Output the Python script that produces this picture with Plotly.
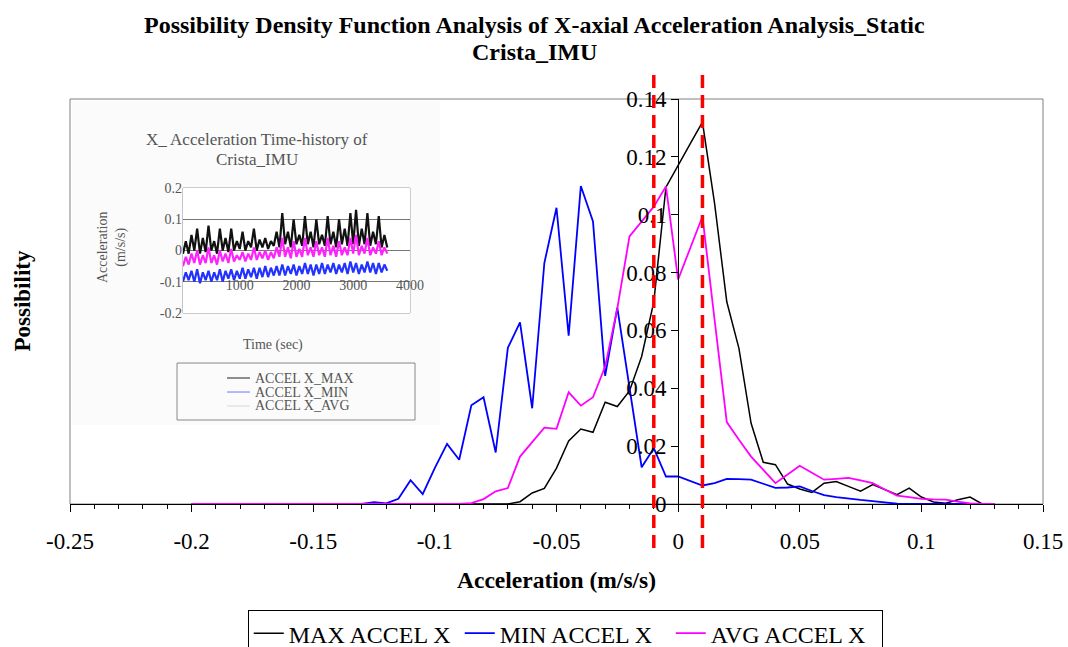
import plotly.graph_objects as go

# ---------------- main PDF data ----------------
accel = [-0.2, -0.195, -0.19, -0.185, -0.18, -0.175, -0.17, -0.165, -0.16, -0.155,
         -0.15, -0.145, -0.14, -0.135, -0.13, -0.125, -0.12, -0.115, -0.11, -0.105,
         -0.1, -0.095, -0.09, -0.085, -0.08, -0.075, -0.07, -0.065, -0.06, -0.055,
         -0.05, -0.045, -0.04, -0.035, -0.03, -0.025, -0.02, -0.015, -0.01, -0.005,
         0.0, 0.005, 0.01, 0.015, 0.02, 0.025, 0.03, 0.035, 0.04, 0.045,
         0.05, 0.055, 0.06, 0.065, 0.07, 0.075, 0.08, 0.085, 0.09, 0.095,
         0.1, 0.105, 0.11, 0.115, 0.12, 0.125, 0.13]

max_accel_x = [0, 0, 0, 0, 0, 0, 0, 0, 0, 0,
               0, 0, 0, 0, 0, 0, 0, 0, 0, 0,
               0, 0, 0, 0, 0, 0, 0, 0.0008, 0.0038, 0.0054,
               0.0124, 0.0218, 0.0259, 0.0248, 0.0352, 0.0337, 0.0391, 0.051, 0.0699, 0.1095,
               0.1172, 0.1246, 0.132, 0.1038, 0.0699, 0.0538, 0.0279, 0.0144, 0.0136, 0.0069,
               0.0052, 0.004, 0.0072, 0.0078, 0.0061, 0.0044, 0.0067, 0.0049, 0.0032, 0.0055,
               0.0024, 0.0007, 0.0003, 0.0015, 0.0024, 0, 0]

min_accel_x = [0, 0, 0, 0, 0, 0, 0, 0, 0, 0,
               0, 0, 0, 0, 0, 0.0006, 0.0002, 0.0018, 0.0082, 0.0034,
               0.0125, 0.0208, 0.0153, 0.0341, 0.0369, 0.0178, 0.054, 0.0628, 0.0331, 0.0833,
               0.1024, 0.0582, 0.1099, 0.0977, 0.0443, 0.0679, 0.0403, 0.0127, 0.0193, 0.0095,
               0.0095, 0.008, 0.0064, 0.0072, 0.0087, 0.0086, 0.0084, 0.007, 0.0056, 0.0057,
               0.0061, 0.0045, 0.0031, 0.0024, 0.0018, 0.0014, 0.001, 0.0005, 0.0001, 0,
               0, 0, 0, 0, 0, 0, 0]

avg_accel_x = [0, 0, 0, 0, 0, 0, 0, 0, 0, 0,
               0, 0, 0, 0, 0, 0, 0, 0, 0, 0,
               0, 0, 0, 0.0003, 0.0017, 0.0044, 0.0055, 0.0164, 0.0216, 0.0264,
               0.026, 0.0386, 0.034, 0.0369, 0.0475, 0.0676, 0.0925, 0.0975, 0.1028, 0.1098,
               0.0776, 0.0885, 0.0994, 0.0636, 0.0283, 0.0222, 0.0164, 0.0118, 0.0072, 0.0102,
               0.0132, 0.0108, 0.0084, 0.0087, 0.009, 0.0082, 0.0072, 0.005, 0.0029, 0.0024,
               0.0018, 0.0016, 0.0015, 0.0008, 0.0002, 0, 0]

x_tick_vals = [-0.25, -0.2, -0.15, -0.1, -0.05, 0, 0.05, 0.1, 0.15]
x_tick_text = ["-0.25", "-0.2", "-0.15", "-0.1", "-0.05", "0", "0.05", "0.1", "0.15"]
y_tick_vals = [0, 0.02, 0.04, 0.06, 0.08, 0.1, 0.12, 0.14]
y_tick_text = ["0", "0.02", "0.04", "0.06", "0.08", "0.1", "0.12", "0.14"]
threshold_lines = [-0.01, 0.01]

# ---------------- inset time-history data (hand estimated) ----------------
time_sec = list(range(0, 3650, 50))
inset_max = [-0.01, 0.03, -0.01, 0.05, 0.0, 0.07, -0.01, 0.04, -0.005, 0.08,
             0.0, 0.03, -0.01, 0.07, 0.0, 0.04, -0.005, 0.07, 0.0, 0.03,
             0.005, 0.06, 0.0, 0.03, 0.01, 0.07, 0.0, 0.035, 0.01, 0.04,
             0.005, 0.03, 0.015, 0.06, 0.01, 0.12, 0.02, 0.06, 0.01, 0.1,
             0.02, 0.05, 0.015, 0.11, 0.02, 0.06, 0.01, 0.1, 0.02, 0.05,
             0.015, 0.11, 0.02, 0.06, 0.01, 0.1, 0.02, 0.07, 0.015, 0.12,
             0.02, 0.13, 0.015, 0.07, 0.02, 0.12, 0.015, 0.06, 0.02, 0.11,
             0.01, 0.05, 0.01]
inset_avg = [-0.05, -0.02, -0.045, -0.01, -0.04, 0.0, -0.045, -0.015, -0.04, 0.01,
             -0.04, -0.015, -0.045, 0.0, -0.035, -0.01, -0.04, 0.005, -0.035, -0.015,
             -0.03, -0.005, -0.035, -0.01, -0.03, 0.01, -0.03, -0.005, -0.025, 0.0,
             -0.03, -0.005, -0.025, 0.01, -0.02, 0.04, -0.02, 0.01, -0.025, 0.03,
             -0.02, 0.005, -0.02, 0.04, -0.015, 0.01, -0.02, 0.03, -0.015, 0.01,
             -0.02, 0.04, -0.015, 0.015, -0.02, 0.03, -0.015, 0.01, -0.015, 0.04,
             -0.01, 0.05, -0.015, 0.015, -0.01, 0.04, -0.015, 0.01, -0.01, 0.03,
             -0.015, 0.01, -0.01]
inset_min = [-0.1, -0.07, -0.095, -0.065, -0.1, -0.06, -0.105, -0.07, -0.095, -0.065,
             -0.1, -0.07, -0.095, -0.06, -0.1, -0.065, -0.09, -0.06, -0.095, -0.065,
             -0.09, -0.055, -0.09, -0.06, -0.085, -0.055, -0.09, -0.055, -0.085, -0.05,
             -0.085, -0.055, -0.08, -0.05, -0.08, -0.045, -0.08, -0.05, -0.075, -0.045,
             -0.08, -0.05, -0.075, -0.04, -0.075, -0.045, -0.08, -0.045, -0.075, -0.04,
             -0.075, -0.045, -0.07, -0.04, -0.075, -0.045, -0.07, -0.04, -0.075, -0.035,
             -0.07, -0.04, -0.075, -0.045, -0.07, -0.035, -0.07, -0.04, -0.075, -0.04,
             -0.07, -0.045, -0.065]
inset_x_ticks = [1000, 2000, 3000, 4000]
inset_y_ticks = [-0.2, -0.1, 0, 0.1, 0.2]
inset_y_text = ["-0.2", "-0.1", "0", "0.1", "0.2"]
inset_legend = ["ACCEL X_MAX", "ACCEL X_MIN", "ACCEL X_AVG"]

SERIF = "Liberation Serif"
INSET_TXT = "#555555"

fig = go.Figure()

# inset traces (min, avg on top, max)
for vals, col in [(inset_max, "#111111"), (inset_min, "#2233ff"), (inset_avg, "#ff22ff")]:
    fig.add_trace(go.Scatter(x=time_sec, y=vals, mode="lines", xaxis="x2", yaxis="y2",
                             line=dict(color=col, width=2.2), showlegend=False,
                             hoverinfo="skip"))

# main traces
fig.add_trace(go.Scatter(x=accel, y=max_accel_x, mode="lines", name="MAX ACCEL X",
                         line=dict(color="#000000", width=1.5)))
fig.add_trace(go.Scatter(x=accel, y=min_accel_x, mode="lines", name="MIN ACCEL X",
                         line=dict(color="#0000ff", width=1.8)))
fig.add_trace(go.Scatter(x=accel, y=avg_accel_x, mode="lines", name="AVG ACCEL X",
                         line=dict(color="#ff00ff", width=1.8)))

shapes = []
# inset background
shapes.append(dict(type="rect", xref="paper", yref="paper", x0=0.002, x1=0.380, y0=0.195, y1=0.995,
                   fillcolor="#fbfbfb", line=dict(width=0), layer="below"))
# plot frame
shapes.append(dict(type="rect", xref="paper", yref="paper", x0=0, x1=1, y0=0, y1=1,
                   line=dict(color="#808080", width=1), layer="below"))
# inset plot box
shapes.append(dict(type="rect", xref="x2 domain", yref="y2 domain", x0=0, x1=1, y0=0, y1=1,
                   line=dict(color="#999999", width=1), layer="below"))
# inset legend box
shapes.append(dict(type="rect", xref="paper", yref="paper", x0=0.110, x1=0.3546, y0=0.2074, y1=0.3481,
                   line=dict(color="#888888", width=1), layer="below"))
leg_y = [0.3111, 0.2765, 0.2420]
leg_col = ["#444444", "#8888ff", "#dddddd"]
for yy, cc in zip(leg_y, leg_col):
    shapes.append(dict(type="line", xref="paper", yref="paper", x0=0.1614, x1=0.1850, y0=yy, y1=yy,
                       line=dict(color=cc, width=1.2)))
# red threshold lines
for xv in threshold_lines:
    shapes.append(dict(type="line", xref="x", yref="paper", x0=xv, x1=xv, y0=-0.1086, y1=1.059,
                       line=dict(color="#ff0000", width=3.5, dash="13px,7px"), layer="above"))


def ann(text, x, y, size, color="black", angle=0, xanchor="center"):
    return dict(text=text, xref="paper", yref="paper", x=x, y=y, xanchor=xanchor, yanchor="middle",
                textangle=angle, showarrow=False, font=dict(family=SERIF, size=size, color=color))


annotations = [
    ann("<b>Possibility Density Function Analysis of X-axial Acceleration Analysis_Static</b>",
        0.4769, (504 - 25) / 405, 24),
    ann("<b>Crista_IMU</b>", 0.4769, (504 - 52) / 405, 24),
    ann("<b>Possibility</b>", -0.0493, 0.5, 23, angle=-90),
    ann("<b>Acceleration (m/s/s)</b>", 0.5, -0.187, 23.5),
    ann("X_ Acceleration Time-history of", 0.1922, 0.8988, 17, INSET_TXT),
    ann("Crista_IMU", 0.1922, 0.8494, 17, INSET_TXT),
    ann("Acceleration<br>(m/s/s)", 0.0432, 0.6346, 14, INSET_TXT, angle=-90),
    ann("Time (sec)", 0.2086, 0.3926, 14, INSET_TXT),
]
for yy, txt in zip(leg_y, inset_legend):
    annotations.append(ann(txt, 0.1881, yy, 14, INSET_TXT, xanchor="left"))

fig.update_layout(
    width=1068, height=647,
    margin=dict(l=70, r=25, t=99, b=143, autoexpand=False),
    paper_bgcolor="white", plot_bgcolor="white",
    font=dict(family=SERIF, color="black"),
    xaxis=dict(range=[-0.25, 0.15], tickvals=x_tick_vals, ticktext=x_tick_text,
               showline=True, linecolor="black", linewidth=1, showgrid=False, zeroline=False,
               ticks="outside", ticklen=7, tickcolor="black", tickwidth=1,
               ticklabelstandoff=9,
               minor=dict(tick0=-0.25, dtick=0.01, ticks="outside", ticklen=4, tickcolor="black", showgrid=False),
               tickfont=dict(family=SERIF, size=23, color="black")),
    yaxis=dict(range=[0, 0.14], tickvals=y_tick_vals, ticktext=y_tick_text,
               anchor="free", position=0.625, showline=True, linecolor="black", linewidth=1,
               showgrid=False, zeroline=False, ticks="outside", ticklen=7, tickcolor="black",
               tickfont=dict(family=SERIF, size=23, color="black")),
    xaxis2=dict(domain=[0.1161, 0.3494], range=[0, 4000], anchor="free", position=0.566,
                showline=False, showgrid=False, zeroline=False, tickvals=inset_x_ticks,
                ticks="", layer="below traces",
                tickfont=dict(family=SERIF, size=14, color=INSET_TXT)),
    yaxis2=dict(domain=[0.4716, 0.7802], range=[-0.2, 0.2], anchor="x2",
                tickvals=inset_y_ticks, ticktext=inset_y_text, showline=False,
                showgrid=True, gridcolor="#777777", gridwidth=1, zeroline=False, ticks="",
                tickfont=dict(family=SERIF, size=14, color=INSET_TXT)),
    legend=dict(orientation="h", x=0.509, xanchor="center", y=-0.262, yanchor="top",
                bordercolor="black", borderwidth=1, bgcolor="white",
                font=dict(family=SERIF, size=24, color="black"),
                entrywidth=166, entrywidthmode="pixels",
                tracegroupgap=0),
    shapes=shapes,
    annotations=annotations,
)

# remove the default page margin so the 1068x647 figure fills the window exactly
fig.write_html("out.html", config={"displayModeBar": False},
               post_script="document.body.style.margin='0';document.body.style.overflow='hidden';")
